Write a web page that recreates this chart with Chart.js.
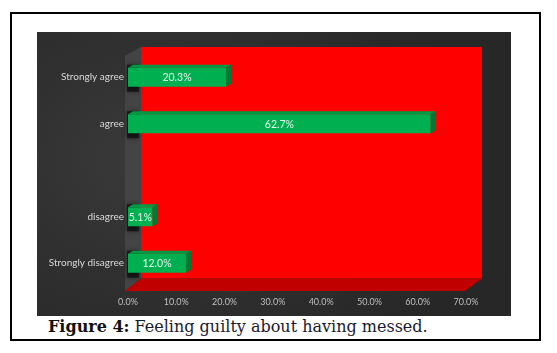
<!DOCTYPE html>
<html>
<head>
<meta charset="utf-8">
<script src="https://cdn.jsdelivr.net/npm/chart.js@4.4.1/dist/chart.umd.min.js"></script>
<style>
  html, body { margin: 0; padding: 0; background: #fff; }
  body { width: 557px; height: 353px; position: relative; overflow: hidden; }
  .frame {
    position: absolute; left: 10px; top: 12px; width: 531px; height: 329px;
    border: 2px solid #000; box-sizing: border-box;
  }
  .panel {
    position: absolute; left: 37px; top: 32px; width: 474px; height: 284px;
    background: radial-gradient(ellipse 70% 90% at 25% 45%, #3a3a3a 0%, #2e2e2e 55%, #272727 100%);
  }
  .caption {
    position: absolute; left: 48px; top: 317px;
    font-family: "DejaVu Serif", serif; font-size: 16px; color: #1a1a2e;
    white-space: nowrap;
  }
  .caption b { color: #111; }
</style>
</head>
<body>
<div class="frame"></div>
<div class="panel"><canvas id="guiltChart" width="474" height="284"></canvas></div>
<div class="caption"><b>Figure 4:</b> Feeling guilty about having messed.</div>
<script>
// Feeling guilty about having messed - 3D-style horizontal bar
const categories = ['Strongly agree', 'agree', '', 'disagree', 'Strongly disagree'];
const percentages = [20.3, 62.7, null, 5.1, 12.0];
const axisMax = 70;
const axisStep = 10;

const DEPTH_X = 5, DEPTH_Y = 3;

// red back wall, floor and grey side wall behind the bars
const wallPlugin = {
    id: 'wallPlugin',
    beforeDraw(chart) {
        const ctx = chart.ctx;
        const ca = chart.chartArea;
        const wl = ca.left + 13, wr = ca.right + 16, wt = ca.top - 7, wb = ca.bottom - 8;
        const fy = ca.bottom + 4.5, fl = ca.left - 3, fr = ca.right - 1;
        ctx.save();
        // side wall
        ctx.fillStyle = '#444444';
        ctx.beginPath();
        ctx.moveTo(fl, wt + 9);
        ctx.lineTo(wl, wt);
        ctx.lineTo(wl, wb);
        ctx.lineTo(fl, fy);
        ctx.closePath();
        ctx.fill();
        // back wall
        ctx.fillStyle = '#ff0000';
        ctx.fillRect(wl, wt, wr - wl, wb - wt);
        // floor
        ctx.fillStyle = '#c00000';
        ctx.beginPath();
        ctx.moveTo(wl, wb);
        ctx.lineTo(wr, wb);
        ctx.lineTo(fr, fy);
        ctx.lineTo(fl, fy);
        ctx.closePath();
        ctx.fill();
        ctx.restore();
    },
    beforeDatasetsDraw(chart) {
        // dark shadow the bars throw on the side wall
        const ctx = chart.ctx;
        const ca = chart.chartArea;
        ctx.save();
        chart.getDatasetMeta(0).data.forEach((bar, i) => {
            if (percentages[i] === null) return;
            ctx.fillStyle = 'rgba(0,0,0,0.55)';
            ctx.shadowColor = 'rgba(0,0,0,0.8)';
            ctx.shadowBlur = 5;
            ctx.fillRect(ca.left - 1, bar.y - bar.height / 2 - 3, 12, bar.height + 8);
        });
        ctx.restore();
    }
};

// top and side faces of each bar plus the value labels
const barFacesPlugin = {
    id: 'barFaces',
    afterDatasetsDraw(chart) {
        const ctx = chart.ctx;
        ctx.save();
        chart.getDatasetMeta(0).data.forEach((bar, i) => {
            if (percentages[i] === null) return;
            const top = bar.y - bar.height / 2, bottom = bar.y + bar.height / 2;
            const x0 = bar.base, x1 = bar.x;
            ctx.fillStyle = '#009a45';
            ctx.beginPath();
            ctx.moveTo(x0, top);
            ctx.lineTo(x1, top);
            ctx.lineTo(x1 + DEPTH_X, top - DEPTH_Y);
            ctx.lineTo(x0 + DEPTH_X, top - DEPTH_Y);
            ctx.closePath();
            ctx.fill();
            ctx.fillStyle = '#007a35';
            ctx.beginPath();
            ctx.moveTo(x1, top);
            ctx.lineTo(x1 + DEPTH_X, top - DEPTH_Y);
            ctx.lineTo(x1 + DEPTH_X, bottom - DEPTH_Y);
            ctx.lineTo(x1, bottom);
            ctx.closePath();
            ctx.fill();

            ctx.fillStyle = '#e8f4ec';
            ctx.font = '10.5px Lato, sans-serif';
            ctx.textAlign = 'center';
            ctx.textBaseline = 'middle';
            ctx.fillText(percentages[i].toFixed(1) + '%', (x0 + x1) / 2, bar.y + 0.5);
        });
        ctx.restore();
    }
};

new Chart(document.getElementById('guiltChart').getContext('2d'), {
    type: 'bar',
    data: {
        labels: categories,
        datasets: [{
            label: 'Feeling guilty',
            data: percentages,
            backgroundColor: '#00b050',
            borderWidth: 0,
            barPercentage: 0.41,
            categoryPercentage: 1.0
        }]
    },
    options: {
        indexAxis: 'y',
        responsive: false,
        animation: false,
        devicePixelRatio: 1,
        layout: { padding: { top: 22, right: 45, left: 0, bottom: 0 } },
        plugins: {
            legend: { display: false },
            tooltip: { enabled: false }
        },
        scales: {
            x: {
                min: 0,
                max: axisMax,
                grid: { display: false, drawTicks: false },
                border: { display: false },
                ticks: {
                    stepSize: axisStep,
                    padding: 10,
                    color: '#bfbfbf',
                    font: { family: 'Lato', size: 9 },
                    callback: value => value.toFixed(1) + '%'
                },
                afterFit: scale => { scale.height = 29.5; }
            },
            y: {
                grid: { display: false, drawTicks: false },
                border: { display: false },
                ticks: {
                    padding: 4,
                    color: '#d9d9d9',
                    font: { family: 'Lato', size: 10 }
                },
                afterFit: scale => { scale.width = 91; }
            }
        }
    },
    plugins: [wallPlugin, barFacesPlugin]
});
</script>
</body>
</html>
